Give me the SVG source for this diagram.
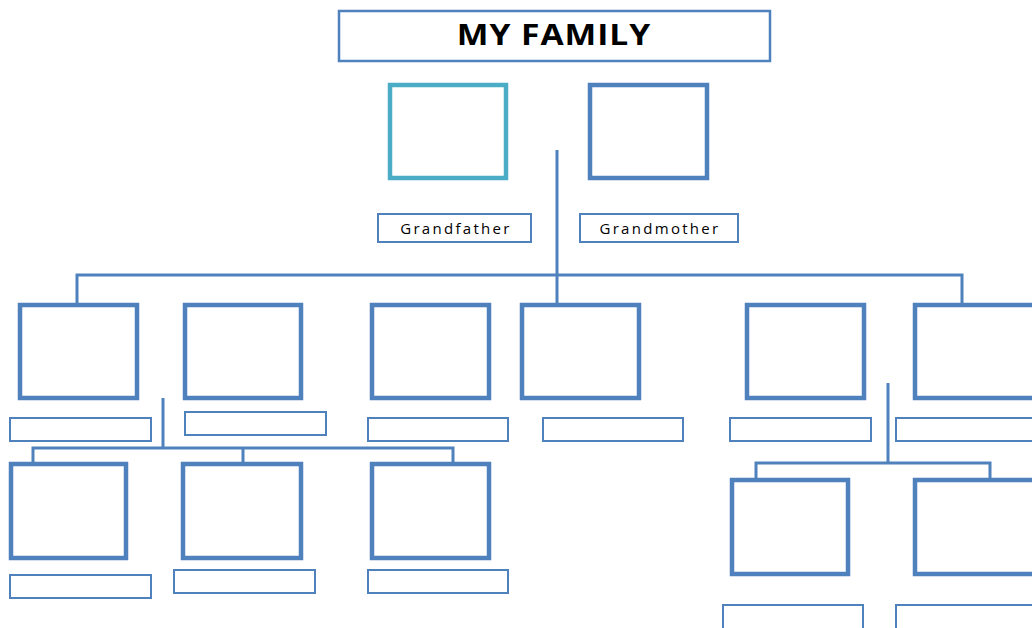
<svg xmlns="http://www.w3.org/2000/svg" width="1032" height="628" viewBox="0 0 1032 628">
  <style>
    .photo { fill: #ffffff; stroke: #4f81bd; stroke-width: 4.5; }
    .photo-teal { fill: #ffffff; stroke: #4bacc6; stroke-width: 4.5; }
    .name { fill: #ffffff; stroke: #4f81bd; stroke-width: 2; }
    .title-box { fill: #ffffff; stroke: #4f81bd; stroke-width: 2.5; }
    .link { fill: none; stroke: #4f81bd; stroke-width: 3; }
    .title { font-family: "Open Sans", "Liberation Sans", sans-serif; font-weight: bold; font-size: 28px; letter-spacing: 0.8px; fill: #000000; }
    .label { font-family: "Open Sans", "Liberation Sans", sans-serif; font-size: 15px; letter-spacing: 2.3px; fill: #000000; }
  </style>
  <rect width="1032" height="628" fill="#ffffff"/>

  <!-- connectors -->
  <g id="connectors">
    <path class="link" d="M557 150 V303"/>
    <path class="link" d="M77 303 V275 H962 V303"/>
    <path class="link" d="M163 398 V448"/>
    <path class="link" d="M33 462 V448 H453 V462 M243 448 V462"/>
    <path class="link" d="M888 383 V463"/>
    <path class="link" d="M756 478 V463 H990 V478"/>
  </g>

  <!-- title, set slightly wide -->
  <g id="title">
    <rect class="title-box" x="339" y="11" width="431" height="50"/>
    <text class="title" transform="translate(554 45) scale(1.2 1)" x="0" y="0" text-anchor="middle">MY FAMILY</text>
  </g>

  <!-- grandparents -->
  <g id="grandfather">
    <rect class="photo-teal" x="390" y="85" width="116" height="93"/>
    <rect class="name" x="378" y="214" width="153" height="28"/>
    <text class="label" x="456" y="234" text-anchor="middle">Grandfather</text>
  </g>
  <g id="grandmother">
    <rect class="photo" x="590" y="85" width="117" height="93"/>
    <rect class="name" x="580" y="214" width="158" height="28"/>
    <text class="label" x="660" y="234" text-anchor="middle">Grandmother</text>
  </g>

  <!-- second generation -->
  <g id="person-1">
    <rect class="photo" x="20" y="305" width="117" height="93"/>
    <rect class="name" x="10" y="418" width="141" height="23"/>
  </g>
  <g id="person-2">
    <rect class="photo" x="185" y="305" width="116" height="93"/>
    <rect class="name" x="185" y="412" width="141" height="23"/>
  </g>
  <g id="person-3">
    <rect class="photo" x="372" y="305" width="117" height="93"/>
    <rect class="name" x="368" y="418" width="140" height="23"/>
  </g>
  <g id="person-4">
    <rect class="photo" x="522" y="305" width="117" height="93"/>
    <rect class="name" x="543" y="418" width="140" height="23"/>
  </g>
  <g id="person-5">
    <rect class="photo" x="747" y="305" width="117" height="93"/>
    <rect class="name" x="730" y="418" width="141" height="23"/>
  </g>
  <g id="person-6">
    <rect class="photo" x="915" y="305" width="120" height="93"/>
    <rect class="name" x="896" y="418" width="140" height="23"/>
  </g>

  <!-- third generation, left branch -->
  <g id="person-7">
    <rect class="photo" x="11" y="464" width="115" height="94"/>
    <rect class="name" x="10" y="575" width="141" height="23"/>
  </g>
  <g id="person-8">
    <rect class="photo" x="183" y="464" width="118" height="94"/>
    <rect class="name" x="174" y="570" width="141" height="23"/>
  </g>
  <g id="person-9">
    <rect class="photo" x="372" y="464" width="117" height="94"/>
    <rect class="name" x="368" y="570" width="140" height="23"/>
  </g>

  <!-- third generation, right branch -->
  <g id="person-10">
    <rect class="photo" x="732" y="480" width="116" height="94"/>
    <rect class="name" x="723" y="605" width="140" height="30"/>
  </g>
  <g id="person-11">
    <rect class="photo" x="915" y="480" width="120" height="94"/>
    <rect class="name" x="896" y="605" width="140" height="30"/>
  </g>
</svg>
